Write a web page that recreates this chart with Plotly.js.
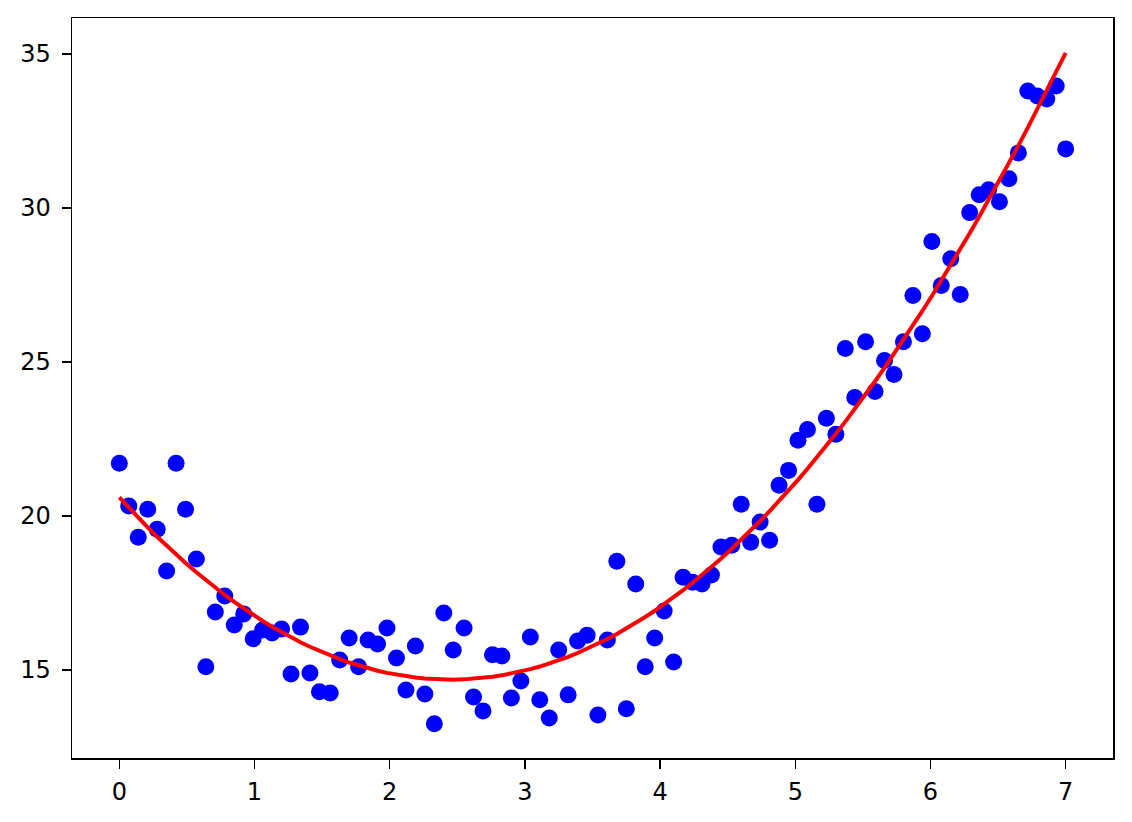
<!DOCTYPE html>
<html>
<head>
<meta charset="utf-8">
<script src="https://cdn.plot.ly/plotly-3.0.1.min.js"></script>
<style>html,body{margin:0;padding:0;background:#fff;}#chart{width:1132px;height:822px;}</style>
</head>
<body>
<div id="chart"></div>
<script>
// Sample positions (x)
const xValues = [0.00,0.07,0.14,0.21,0.28,0.35,0.42,0.49,0.57,0.64,
  0.71,0.78,0.85,0.92,0.99,1.06,1.13,1.20,1.27,1.34,
  1.41,1.48,1.56,1.63,1.70,1.77,1.84,1.91,1.98,2.05,
  2.12,2.19,2.26,2.33,2.40,2.47,2.55,2.62,2.69,2.76,
  2.83,2.90,2.97,3.04,3.11,3.18,3.25,3.32,3.39,3.46,
  3.54,3.61,3.68,3.75,3.82,3.89,3.96,4.03,4.10,4.17,
  4.24,4.31,4.38,4.45,4.53,4.60,4.67,4.74,4.81,4.88,
  4.95,5.02,5.09,5.16,5.23,5.30,5.37,5.44,5.52,5.59,
  5.66,5.73,5.80,5.87,5.94,6.01,6.08,6.15,6.22,6.29,
  6.36,6.43,6.51,6.58,6.65,6.72,6.79,6.86,6.93,7.00];

// Observed values (blue dots)
const yValues = [21.71,20.32,19.31,20.22,19.57,18.21,21.71,20.22,18.60,15.10,
  16.88,17.40,16.46,16.82,16.01,16.30,16.20,16.33,14.87,16.39,
  14.90,14.29,14.25,15.32,16.04,15.10,15.97,15.84,16.36,15.39,
  14.35,15.78,14.22,13.25,16.85,15.65,16.36,14.12,13.67,15.49,
  15.45,14.09,14.64,16.07,14.03,13.44,15.65,14.19,15.94,16.13,
  13.54,15.97,18.53,13.74,17.79,15.10,16.04,16.91,15.26,18.01,
  17.85,17.79,18.08,18.99,19.05,20.38,19.15,19.80,19.21,21.00,
  21.48,22.46,22.81,20.38,23.17,22.65,25.44,23.85,25.66,24.04,
  25.05,24.59,25.66,27.16,25.92,28.91,27.48,28.35,27.19,29.85,
  30.43,30.59,30.20,30.95,31.79,33.80,33.64,33.54,33.96,31.92];

const xTickVals = [0,1,2,3,4,5,6,7];
const xTickText = ["0","1","2","3","4","5","6","7"];
const yTickVals = [15,20,25,30,35];
const yTickText = ["15","20","25","30","35"];

// Quadratic least-squares fit of the data (red curve)
function polyfit2(xs, ys) {
  let S = [0,0,0,0,0], T = [0,0,0];
  for (let i = 0; i < xs.length; i++) {
    let p = 1;
    for (let k = 0; k < 5; k++) { S[k] += p; if (k < 3) T[k] += p * ys[i]; p *= xs[i]; }
  }
  const A = [[S[0],S[1],S[2],T[0]],[S[1],S[2],S[3],T[1]],[S[2],S[3],S[4],T[2]]];
  for (let c = 0; c < 3; c++) {
    for (let r = c + 1; r < 3; r++) {
      const f = A[r][c] / A[c][c];
      for (let k = c; k < 4; k++) A[r][k] -= f * A[c][k];
    }
  }
  const coef = [0,0,0];
  for (let r = 2; r >= 0; r--) {
    let s = A[r][3];
    for (let k = r + 1; k < 3; k++) s -= A[r][k] * coef[k];
    coef[r] = s / A[r][r];
  }
  return coef;
}
const coef = polyfit2(xValues, yValues);
const fitValues = xValues.map(x => coef[0] + coef[1]*x + coef[2]*x*x);

const axisCommon = {
  showline: true, mirror: true, linecolor: '#000', linewidth: 1.5,
  ticks: 'outside', ticklen: 9, tickwidth: 1.5, tickcolor: '#000',
  showgrid: false, zeroline: false,
  tickfont: {family: 'DejaVu Sans', size: 24, color: '#000'}
};

const data = [
  {x: xValues, y: yValues, type: 'scatter', mode: 'markers',
   marker: {color: '#0000ff', size: 17, line: {width: 0}}},
  {x: xValues, y: fitValues, type: 'scatter', mode: 'lines',
   line: {color: '#ff0000', width: 4}}
];

const layout = {
  width: 1132, height: 822,
  margin: {l: 72, r: 19, t: 18, b: 64},
  paper_bgcolor: '#fff', plot_bgcolor: '#fff',
  showlegend: false,
  font: {family: 'DejaVu Sans', size: 24, color: '#000'},
  xaxis: Object.assign({}, axisCommon, {range: [-0.35, 7.35], tickvals: xTickVals, ticktext: xTickText, ticklabelstandoff: 3}),
  yaxis: Object.assign({}, axisCommon, {range: [12.14, 36.17], tickvals: yTickVals, ticktext: yTickText, ticklabelstandoff: 6})
};

Plotly.newPlot('chart', data, layout, {displayModeBar: false, staticPlot: true});
</script>
</body>
</html>
